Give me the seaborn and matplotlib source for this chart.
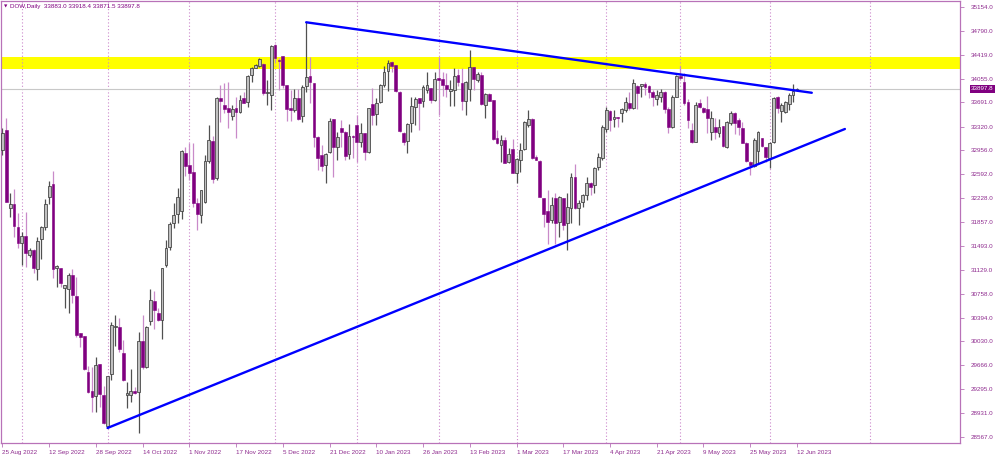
import numpy as np
import pandas as pd
import matplotlib
matplotlib.use("Agg")
import matplotlib.pyplot as plt
import matplotlib.transforms as mtransforms
import seaborn as sns

# ---------------- data ----------------
open_ = [32963, 33269, 32069, 32136, 31788, 31543, 31645, 31354, 31431, 31135,
         31594, 31788, 32248, 32437, 31160, 31150, 30844, 30828, 31048, 30726,
         30154, 30113, 29567, 29276, 29194, 29684, 29209, 28734, 29531, 30257,
         30257, 29848, 29209, 29209, 29270, 29260, 30042, 29643, 30348, 30650,
         30471, 30358, 31201, 31482, 31840, 31990, 32030, 32912, 32734, 32632,
         32157, 31968, 32172, 32800, 33101, 32529, 33755, 33653, 33602, 33484,
         33602, 33551, 33755, 33704, 34113, 34225, 34250, 34276, 33842, 33806,
         34572, 34342, 34404, 33959, 33602, 33576, 33755, 33484, 33944, 34102,
         33985, 33168, 32886, 32733, 32938, 33433, 33014, 33295, 33244, 32902,
         33183, 33346, 33091, 33218, 32938, 33663, 33515, 33704, 33959, 34179,
         34316, 34265, 33857, 33229, 33106, 33382, 33627, 33755, 33719, 33882,
         33908, 33729, 34061, 34046, 33959, 33870, 33880, 34110, 33984, 33713,
         33892, 34229, 34035, 34112, 33652, 33816, 33729, 33152, 33039, 33116,
         32784, 32973, 32605, 32809, 32973, 33346, 33433, 32861, 32799, 32222,
         32033, 31890, 32222, 31865, 32222, 31849, 32069, 32544, 32069, 32171,
         32273, 32462, 32426, 32707, 32835, 33279, 33561, 33433, 33458, 33535,
         33576, 33688, 33601, 33944, 33944, 33974, 33944, 33857, 33739, 33770,
         33857, 33586, 33321, 33780, 34097, 34010, 33700, 33270, 33091, 33678,
         33601, 33586, 33244, 33321, 33229, 33331, 33004, 33372, 33535, 33423,
         33295, 33076, 32784, 32718, 32953, 33142, 33004, 32835, 33091, 33770,
         33566, 33550, 33668, 33806, 33883.0]
high = [33295, 33448, 32309, 32360, 31993, 31712, 32018, 31467, 31440, 31635,
        31798, 32207, 32493, 32646, 31195, 31160, 30900, 31073, 31135, 31022,
        30160, 30120, 29654, 29643, 29797, 29690, 29347, 29505, 30333, 30435,
        30384, 30052, 29414, 29603, 29337, 30180, 30435, 30260, 30828, 30808,
        30537, 31155, 31584, 31865, 32157, 32376, 32960, 33015, 33066, 33066,
        32223, 32355, 32887, 33347, 33178, 33781, 33959, 33985, 34010, 33653,
        33781, 33806, 33857, 34113, 34240, 34282, 34368, 34291, 34036, 34572,
        34580, 34368, 34404, 33965, 33883, 33893, 33893, 33959, 34920, 34383,
        33990, 33170, 33040, 32922, 33448, 33440, 33244, 33423, 33250, 33361,
        33193, 33499, 33372, 33225, 33605, 33918, 33755, 33974, 34250, 34342,
        34320, 34270, 33872, 33244, 33372, 33770, 33770, 33760, 33959, 34163,
        33910, 34163, 34393, 34163, 34150, 34030, 34220, 34200, 34214, 34015,
        34495, 34235, 34163, 34163, 33831, 33831, 33735, 33269, 33193, 33167,
        32988, 33126, 32835, 33065, 33400, 33576, 33448, 32886, 32805, 32230,
        32350, 32248, 32299, 32255, 32230, 32299, 32605, 32748, 32197, 32289,
        32554, 32470, 32707, 32912, 33346, 33627, 33576, 33576, 33465, 33601,
        33770, 33857, 34046, 33959, 33980, 34010, 33959, 33882, 33882, 33893,
        33872, 33627, 33806, 34112, 34250, 34138, 33740, 33382, 33704, 33739,
        33627, 33790, 33566, 33448, 33433, 33335, 33400, 33566, 33540, 33448,
        33397, 33080, 32790, 33142, 33259, 33150, 33010, 33091, 33770, 33790,
        33678, 33719, 33842, 33974, 33918.4]
low = [32886, 32160, 31942, 31635, 31456, 31201, 31175, 31329, 31073, 30971,
       31288, 31737, 32136, 30997, 30869, 30869, 30537, 30471, 30614, 30103,
       29950, 29590, 29245, 28954, 28954, 29031, 28765, 28709, 29439, 29960,
       29873, 29430, 29005, 29107, 29230, 28622, 29603, 29618, 30282, 30215,
       30350, 30062, 31175, 31431, 31763, 31840, 31900, 32565, 32504, 32095,
       31738, 31840, 32146, 32759, 32463, 32504, 33398, 33525, 33295, 33423,
       33142, 33525, 33679, 33627, 34010, 34215, 34240, 33806, 33653, 33576,
       34317, 33883, 33908, 33413, 33413, 33551, 33423, 33398, 33857, 33689,
       33015, 32657, 32646, 32463, 32912, 32554, 32810, 33004, 32810, 32820,
       32835, 32784, 33014, 32810, 32922, 33346, 33346, 33678, 33934, 33872,
       34163, 33857, 33244, 33040, 32922, 33244, 33346, 33269, 33627, 33831,
       33688, 33719, 33499, 33790, 33780, 33630, 33630, 33950, 33576, 33499,
       33719, 33882, 34010, 33660, 33448, 33710, 33120, 33055, 32784, 32758,
       32758, 32605, 32462, 32631, 32963, 33310, 32830, 32805, 32240, 31788,
       31522, 31839, 31522, 31635, 31737, 31431, 31839, 32060, 31814, 32094,
       32197, 32274, 32299, 32656, 32810, 33244, 33259, 33321, 33321, 33397,
       33550, 33576, 33586, 33586, 33780, 33806, 33755, 33637, 33653, 33704,
       33525, 33218, 33295, 33770, 34036, 33650, 33295, 33076, 33080, 33601,
       33525, 33229, 33116, 33127, 33167, 33004, 32990, 33346, 33208, 33193,
       33065, 32784, 32580, 32698, 32759, 33004, 32784, 32682, 33076, 33535,
       33397, 33525, 33576, 33704, 33871.5]
close = [33218, 32171, 32136, 31799, 31543, 31645, 31380, 31431, 31150, 31574,
         31788, 32131, 32411, 31135, 31191, 30920, 30895, 31048, 30741, 30129,
         30103, 29603, 29260, 29184, 29669, 29225, 28775, 29500, 30282, 30266,
         29909, 29439, 29235, 29276, 29235, 30042, 29643, 30256, 30665, 30512,
         30358, 31150, 31456, 31829, 31968, 32250, 32953, 32718, 32616, 32146,
         31978, 32351, 32795, 33117, 32514, 33755, 33719, 33587, 33541, 33587,
         33541, 33730, 33689, 34097, 34215, 34266, 34353, 33842, 33857, 34557,
         34368, 34327, 33959, 33587, 33576, 33755, 33433, 33934, 34087, 34010,
         33158, 32836, 32718, 32902, 33407, 33004, 33167, 33244, 32876, 33183,
         33167, 33091, 33218, 32938, 33601, 33499, 33688, 33959, 34163, 34301,
         34250, 33872, 33259, 33091, 33361, 33637, 33739, 33678, 33923, 33959,
         33729, 34046, 34036, 33959, 33900, 33900, 34097, 34010, 33713, 34010,
         34239, 34045, 34127, 33667, 33816, 33719, 33126, 33065, 33116, 32769,
         32901, 32615, 32820, 32963, 33397, 33433, 32835, 32809, 32248, 31982,
         31865, 32120, 31839, 32248, 31814, 32094, 32554, 32069, 32156, 32273,
         32462, 32401, 32682, 32861, 33310, 33576, 33423, 33464, 33448, 33586,
         33704, 33601, 33995, 33842, 33974, 33933, 33857, 33780, 33806, 33857,
         33586, 33321, 33780, 34097, 34061, 33678, 33420, 33091, 33653, 33617,
         33550, 33448, 33448, 33244, 33310, 33024, 33397, 33535, 33372, 33321,
         33076, 32800, 32733, 33116, 33244, 33024, 32861, 33076, 33755, 33601,
         33653, 33704, 33806, 33872, 33897.8]

date_labels = ["25 Aug 2022", "12 Sep 2022", "28 Sep 2022", "14 Oct 2022",
               "1 Nov 2022", "17 Nov 2022", "5 Dec 2022", "21 Dec 2022",
               "10 Jan 2023", "26 Jan 2023", "13 Feb 2023", "1 Mar 2023",
               "17 Mar 2023", "4 Apr 2023", "21 Apr 2023", "9 May 2023",
               "25 May 2023", "12 Jun 2023"]
label_step = 12
month_starts = [5, 27, 48, 70, 91, 112, 132, 155, 174, 197, 222.7]
price_ticks = [35154.0, 34790.0, 34419.0, 34055.0, 33691.0, 33320.0, 32956.0,
               32592.0, 32228.0, 31857.0, 31493.0, 31129.0, 30758.0, 30394.0,
               30030.0, 29666.0, 29295.0, 28931.0, 28567.0]
resistance_zone = [34200, 34395]
last_price = 33897.8
header_text = "DOW,Daily  33883.0 33918.4 33871.5 33897.8"
down_trend_x = [78, 207.8]
down_trend_y = [34920, 33840]
up_trend_x = [27, 216.3]
up_trend_y = [28704, 33285]

# ---------------- style ----------------
sns.set_style("white")
plt.rcParams['font.family'] = ['Liberation Sans', 'DejaVu Sans']

PURPLE = '#800080'
AXIS_COL = '#B872B8'
TEXT_COL = '#8E2A8E'
BULL_FILL = '#C0C0C0'
BULL_EDGE = '#3C3C3C'
BEAR_FILL = '#800080'
BEAR_WICK = '#C98AC9'
BULL_WICK = '#505050'

fig = plt.figure(figsize=(10, 4.58), dpi=100)
ax = fig.add_axes([0.0008, 0.0328, 0.959, 0.965])

df = pd.DataFrame({'o': open_, 'h': high, 'l': low, 'c': close})
df['i'] = np.arange(len(df))
df['bull'] = df['c'] >= df['o']

# resistance zone, grid, last-price line
ax.axhspan(resistance_zone[0], resistance_zone[1], color='#FFFF00', zorder=0.5, lw=0)
for m in month_starts:
    ax.axvline(m, color='#CC88CC', lw=0.8, ls=(0, (1, 2)), zorder=0.6)
ax.axhline(last_price, color='#C8C8C8', lw=0.8, zorder=0.7)

# wicks
for is_bull, wc in [(True, BULL_WICK), (False, BEAR_WICK)]:
    d = df[df['bull'] == is_bull]
    ax.vlines(d['i'], d['l'], d['h'], color=wc, lw=0.9, zorder=2)

# bodies
min_h = 14
for is_bull in [True, False]:
    d = df[df['bull'] == is_bull]
    bottom = np.minimum(d['o'], d['c'])
    height = np.maximum(np.abs(d['c'] - d['o']), min_h)
    if is_bull:
        ax.bar(d['i'], height, bottom=bottom, width=0.72, color=BULL_FILL,
               edgecolor=BULL_EDGE, linewidth=0.55, zorder=3)
    else:
        ax.bar(d['i'], height, bottom=bottom, width=0.72, color=BEAR_FILL,
               edgecolor=BEAR_FILL, linewidth=0.4, zorder=3)

# trend lines
tl = pd.DataFrame({'x': down_trend_x + up_trend_x,
                   'y': down_trend_y + up_trend_y,
                   'line': ['down', 'down', 'up', 'up']})
sns.lineplot(data=tl, x='x', y='y', units='line', estimator=None,
             color='#0000FF', lw=1.7, ax=ax, zorder=4, legend=False)

# axes
ax.set_xlim(-0.4, 245.8)
ax.set_ylim(28474, 35246)
ax.set_xlabel('')
ax.set_ylabel('')
ax.yaxis.tick_right()
ax.set_yticks(price_ticks)
ax.set_yticklabels([f"{v:.1f}" for v in price_ticks])
xt = list(range(0, label_step * len(date_labels), label_step))
ax.set_xticks(xt)
ax.set_xticklabels(date_labels, ha='left')
ax.tick_params(axis='y', which='both', right=True, left=False, length=3,
               width=0.6, color=AXIS_COL, labelsize=4.5, labelcolor=TEXT_COL, pad=5)
ax.tick_params(axis='x', which='both', bottom=True, length=3, width=0.6,
               color=AXIS_COL, labelsize=4.5, labelcolor=TEXT_COL, pad=2)
for sp in ax.spines.values():
    sp.set_visible(True)
    sp.set_color(AXIS_COL)
    sp.set_linewidth(0.9)
ax.grid(False)

# last price label
trans = mtransforms.blended_transform_factory(ax.transAxes, ax.transData)
ax.text(1.0115, last_price, f"{last_price:.1f}", transform=trans, ha='left',
        va='center', fontsize=4.5, color='white', zorder=10, clip_on=False,
        bbox=dict(boxstyle='square,pad=0.18', fc=PURPLE, ec='none'))

# header
ax.text(0.0035, 0.988, "\u25BC", transform=ax.transAxes, ha='left', va='center',
        fontsize=3.2, color=PURPLE, family=['DejaVu Sans'])
ax.text(0.0098, 0.988, header_text, transform=ax.transAxes, ha='left', va='center',
        fontsize=4.5, color=PURPLE)

fig.savefig("out.png", dpi=100)
